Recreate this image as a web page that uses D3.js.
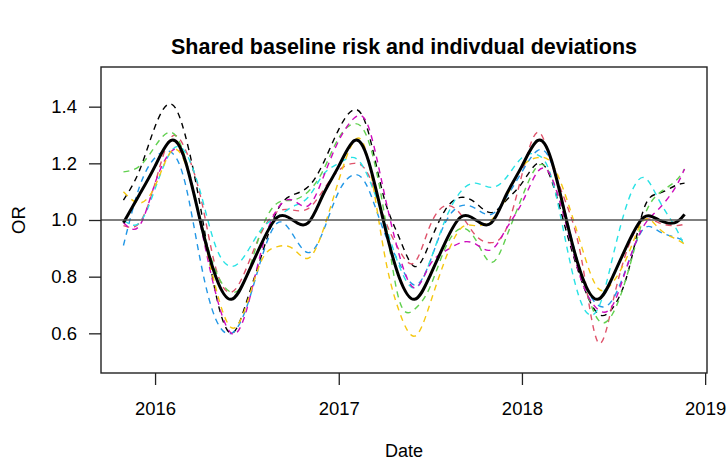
<!DOCTYPE html>
<html>
<head>
<meta charset="utf-8">
<script src="https://cdn.jsdelivr.net/npm/d3@7"></script>
<style>
  html, body { margin: 0; padding: 0; background: #fff; }
  svg { display: block; font-family: "Liberation Sans", Arial, Helvetica, sans-serif; }
</style>
</head>
<body>
<div id="chart"></div>
<script>
// Monthly sample dates (first and last are the ends of the observation window)
const dates = ["2015-10-30",
  "2015-12-01","2016-01-01","2016-02-01","2016-03-01","2016-04-01","2016-05-01","2016-06-01",
  "2016-07-01","2016-08-01","2016-09-01","2016-10-01","2016-11-01","2016-12-01",
  "2017-01-01","2017-02-01","2017-03-01","2017-04-01","2017-05-01","2017-06-01",
  "2017-07-01","2017-08-01","2017-09-01","2017-10-01","2017-11-01","2017-12-01",
  "2018-01-01","2018-02-01","2018-03-01","2018-04-01","2018-05-01","2018-06-01",
  "2018-07-01","2018-08-01","2018-09-01","2018-10-01","2018-11-01","2018-11-21"];

// Shared baseline odds ratio
const baseline = [0.99,
  1.09, 1.19, 1.28, 1.21, 0.99, 0.80, 0.72, 0.80, 0.92, 1.01, 1.00, 0.99, 1.09,
  1.19, 1.28, 1.21, 0.99, 0.80, 0.72, 0.80, 0.92, 1.01, 1.00, 0.99, 1.09,
  1.19, 1.28, 1.21, 0.99, 0.80, 0.72, 0.80, 0.92, 1.01, 1.00, 0.99, 1.02];

// Individual deviations (one series per unit)
const unit1 = [1.07,
  1.175, 1.33, 1.41, 1.30, 1.04, 0.74, 0.60, 0.71, 0.88, 1.035, 1.088, 1.117, 1.20,
  1.32, 1.39, 1.31, 1.08, 0.94, 0.836, 0.918, 1.035, 1.08, 1.06, 1.026, 1.07,
  1.13, 1.20, 1.14, 0.95, 0.78, 0.67, 0.69, 0.82, 1.04, 1.094, 1.12, 1.13];
const unit2 = [0.98,
  0.99, 1.13, 1.29, 1.25, 1.08, 0.83, 0.745, 0.83, 0.96, 1.03, 1.035, 1.04, 1.105,
  1.175, 1.20, 1.16, 1.01, 0.895, 0.85, 0.976, 1.05, 1.02, 0.945, 0.92, 0.97,
  1.16, 1.31, 1.20, 1.05, 0.85, 0.57, 0.71, 0.906, 1.00, 0.99, 0.98, 0.985];
const unit3 = [1.17,
  1.19, 1.26, 1.31, 1.22, 1.00, 0.82, 0.745, 0.80, 0.97, 1.06, 1.07, 1.10, 1.175,
  1.29, 1.34, 1.28, 1.03, 0.72, 0.685, 0.76, 0.90, 0.97, 0.93, 0.85, 0.94,
  1.08, 1.19, 1.15, 0.98, 0.80, 0.65, 0.67, 0.82, 1.01, 1.094, 1.134, 1.18];
const unit4 = [0.91,
  1.117, 1.22, 1.24, 1.13, 0.85, 0.65, 0.60, 0.69, 0.87, 0.99, 0.95, 0.885, 0.96,
  1.10, 1.16, 1.11, 0.96, 0.85, 0.77, 0.85, 0.99, 1.05, 1.04, 1.02, 1.08,
  1.17, 1.245, 1.20, 1.00, 0.80, 0.70, 0.72, 0.85, 0.97, 0.96, 0.94, 0.925];
const unit5 = [1.00,
  0.99, 1.11, 1.24, 1.24, 1.094, 0.906, 0.836, 0.883, 0.97, 1.012, 1.047, 1.08, 1.16,
  1.20, 1.22, 1.15, 1.00, 0.84, 0.76, 0.85, 1.00, 1.10, 1.13, 1.115, 1.15,
  1.22, 1.23, 1.15, 0.90, 0.70, 0.685, 0.87, 1.07, 1.15, 1.07, 0.98, 0.905];
const unit6 = [0.99,
  0.98, 1.13, 1.24, 1.21, 0.98, 0.74, 0.60, 0.68, 0.90, 1.04, 1.07, 1.05, 1.15,
  1.28, 1.36, 1.33, 1.10, 0.88, 0.76, 0.84, 0.89, 0.92, 0.915, 0.895, 0.97,
  1.06, 1.17, 1.15, 0.97, 0.78, 0.685, 0.70, 0.85, 0.98, 1.04, 1.11, 1.18];
const unit7 = [1.10,
  1.06, 1.12, 1.24, 1.20, 0.99, 0.76, 0.62, 0.70, 0.86, 0.906, 0.90, 0.865, 0.965,
  1.14, 1.28, 1.21, 0.89, 0.68, 0.59, 0.70, 0.86, 0.97, 0.98, 1.00, 1.08,
  1.187, 1.22, 1.20, 1.07, 0.90, 0.76, 0.78, 0.88, 1.00, 0.97, 0.935, 0.915];

const units = [unit1, unit2, unit3, unit4, unit5, unit6, unit7];
const unitColors = ["#000000", "#DF536B", "#61D04F", "#2297E6", "#28E2E5", "#CD0BBC", "#F5C710"];

const yearTicks = ["2016-01-01", "2017-01-01", "2018-01-01", "2019-01-01"];
const orTicks = [0.6, 0.8, 1.0, 1.2, 1.4];
const orLimits = [0.5, 1.5];

const W = 728, H = 461;
const box = { left: 101, right: 707, top: 67, bottom: 373 };

const parse = d3.timeParse("%Y-%m-%d");
const t = dates.map(parse);

// Axis ranges padded by 4% on each side
const [t0, t1] = d3.extent(t);
const span = t1 - t0;
const x = d3.scaleTime()
  .domain([new Date(+t0 - 0.04 * span), new Date(+t1 + 0.04 * span)])
  .range([box.left, box.right]);
const ySpan = orLimits[1] - orLimits[0];
const y = d3.scaleLinear()
  .domain([orLimits[0] - 0.04 * ySpan, orLimits[1] + 0.04 * ySpan])
  .range([box.bottom, box.top]);

const svg = d3.select("#chart").append("svg")
  .attr("width", W).attr("height", H);

const line = d3.line()
  .x((d, i) => x(t[i]))
  .y(d => y(d))
  .curve(d3.curveNatural);

const plot = svg.append("g");

// Dashed deviation curves
units.forEach((u, k) => {
  plot.append("path")
    .datum(u)
    .attr("d", line)
    .attr("fill", "none")
    .attr("stroke", unitColors[k])
    .attr("stroke-width", 1.4)
    .attr("stroke-dasharray", "6,5");
});

// Shared baseline
plot.append("path")
  .datum(baseline)
  .attr("d", line)
  .attr("fill", "none")
  .attr("stroke", "#000")
  .attr("stroke-width", 3);

// Reference line at OR = 1
svg.append("line")
  .attr("x1", box.left).attr("x2", box.right)
  .attr("y1", y(1)).attr("y2", y(1))
  .attr("stroke", "#555").attr("stroke-width", 1.5);

// Plot frame
svg.append("rect")
  .attr("x", box.left).attr("y", box.top)
  .attr("width", box.right - box.left).attr("height", box.bottom - box.top)
  .attr("fill", "none").attr("stroke", "#222").attr("stroke-width", 1.4);

// Axes
const xAxis = svg.append("g")
  .attr("transform", `translate(0,${box.bottom})`)
  .call(d3.axisBottom(x)
    .tickValues(yearTicks.map(parse))
    .tickFormat(d3.timeFormat("%Y"))
    .tickSize(12)
    .tickPadding(17));
const yAxis = svg.append("g")
  .attr("transform", `translate(${box.left},0)`)
  .call(d3.axisLeft(y)
    .tickValues(orTicks)
    .tickFormat(d3.format(".1f"))
    .tickSize(12)
    .tickPadding(12));

[xAxis, yAxis].forEach(g => {
  g.select(".domain").remove();
  g.selectAll(".tick line").attr("stroke", "#222").attr("stroke-width", 1.3);
  g.selectAll(".tick text")
    .attr("fill", "#000")
    .style("font-size", "18.5px")
    .style("font-family", '"Liberation Sans", Arial, Helvetica, sans-serif');
});

// Titles
svg.append("text")
  .attr("x", (box.left + box.right) / 2).attr("y", 54)
  .attr("text-anchor", "middle")
  .style("font-size", "21.5px").style("font-weight", "bold")
  .text("Shared baseline risk and indivdual deviations");

svg.append("text")
  .attr("x", (box.left + box.right) / 2).attr("y", 457)
  .attr("text-anchor", "middle")
  .style("font-size", "18px")
  .text("Date");

svg.append("text")
  .attr("transform", `translate(25,${y(1)}) rotate(-90)`)
  .attr("text-anchor", "middle")
  .style("font-size", "18.5px")
  .text("OR");
</script>
</body>
</html>
